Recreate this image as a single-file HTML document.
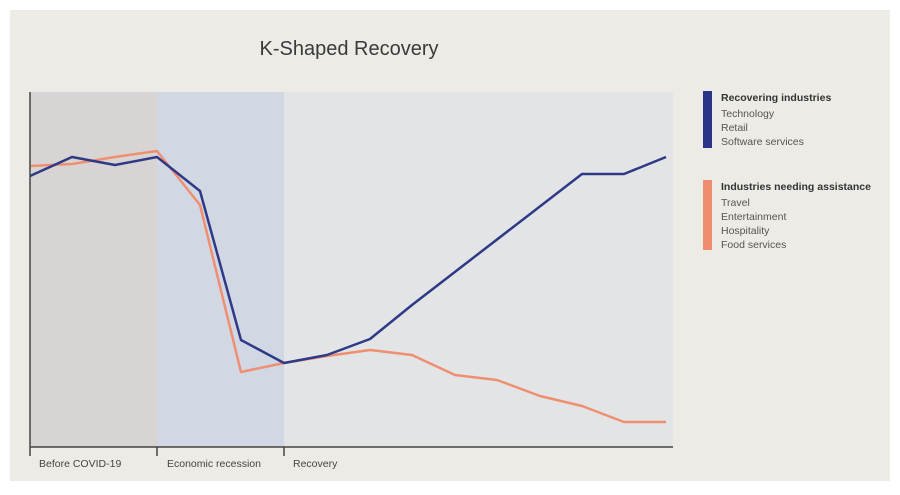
<!DOCTYPE html>
<html><head><style>
body{margin:0;background:#fff;}
svg{display:block;font-family:"Liberation Sans",sans-serif;}
</style></head><body>
<svg width="900" height="495" viewBox="0 0 900 495">
<rect x="0" y="0" width="900" height="495" fill="#fff"/>
<rect x="10" y="10" width="880" height="471" fill="#ecebe6"/>
<text x="349" y="55" font-size="20" fill="#3a3a3a" text-anchor="middle">K-Shaped Recovery</text>
<rect x="30" y="92" width="127" height="355" fill="#d8d4d3"/>
<rect x="157" y="92" width="127" height="355" fill="#d2d7e4"/>
<rect x="284" y="92" width="389" height="355" fill="#e3e4e6"/>
<polyline fill="none" stroke="#ef8f72" stroke-width="2.5" stroke-linejoin="round" points="30,166 72,164 115,157 157,151 200,205 241,372 284,363 327,356 370,350 412,355 455,375 497,380 540,396 582,406 624,422 666,422"/>
<polyline fill="none" stroke="#2e3a86" stroke-width="2.5" stroke-linejoin="round" points="30,176 72,157 115,165 157,157 200,191 241,340 284,363 327,355 370,339 412,305 582,174 624,174 666,157"/>
<line x1="30" y1="92" x2="30" y2="456" stroke="#444" stroke-width="1.5"/>
<line x1="30" y1="447" x2="673" y2="447" stroke="#444" stroke-width="1.5"/>
<line x1="157" y1="447" x2="157" y2="456" stroke="#444" stroke-width="1.5"/>
<line x1="284" y1="447" x2="284" y2="456" stroke="#444" stroke-width="1.5"/>
<g font-size="10.5" fill="#444">
<text x="39" y="467">Before COVID-19</text>
<text x="167" y="467">Economic recession</text>
<text x="293" y="467">Recovery</text>
</g>
<rect x="703" y="91" width="9" height="57" fill="#2c3488"/>
<rect x="703" y="180" width="9" height="70" fill="#ee8d70"/>
<g font-size="10.5" fill="#555">
<text x="721" y="101" font-weight="bold" fill="#333">Recovering industries</text>
<text x="721" y="117">Technology</text>
<text x="721" y="131">Retail</text>
<text x="721" y="145">Software services</text>
<text x="721" y="190" font-weight="bold" fill="#333">Industries needing assistance</text>
<text x="721" y="206">Travel</text>
<text x="721" y="220">Entertainment</text>
<text x="721" y="234">Hospitality</text>
<text x="721" y="248">Food services</text>
</g>
</svg>
</body></html>
